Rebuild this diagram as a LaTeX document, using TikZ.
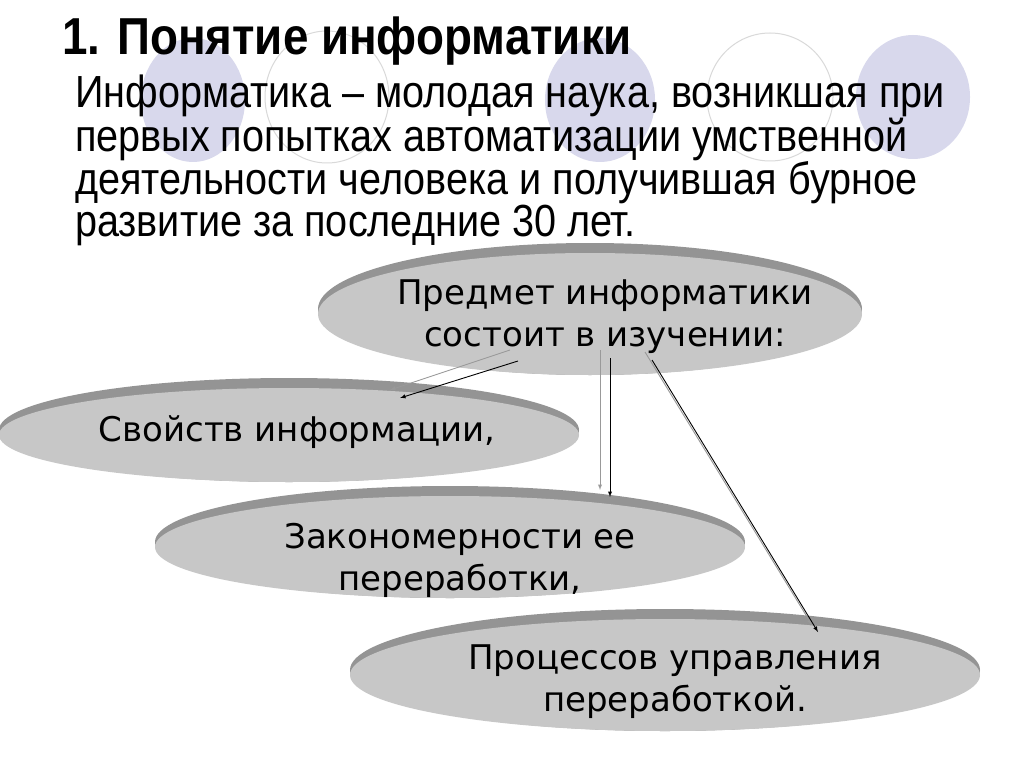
\documentclass[tikz,border=0pt]{standalone}
\usepackage{fontspec}
\setmainfont{Liberation Sans}
\newfontfamily\narrowf[FakeStretch=0.88]{Liberation Sans}
\newfontfamily\verd{DejaVu Sans}
\definecolor{lav}{HTML}{D8D8EC}
\begin{document}
\begin{tikzpicture}[x=1pt,y=-1pt,
  deco/.style={fill=lav},
  ring/.style={draw=black!15,line width=1pt},
  txt/.style={font=\verd\fontsize{34}{42}\selectfont,align=center,inner sep=0},
  blk/.style={-latex,line width=0.9pt},
  gry/.style={-latex,line width=0.9pt,draw=black!40}]
\useasboundingbox (0,0) rectangle (1024,767);
\fill[white] (0,0) rectangle (1024,767);
% decorative circles
\fill[deco] (193,100) ellipse[x radius=52,y radius=62];
\draw[ring] (327,97) ellipse[x radius=62,y radius=66];
\fill[deco] (600,100) ellipse[x radius=55,y radius=62];
\draw[ring] (770,97) ellipse[x radius=63,y radius=64];
\fill[deco] (913,97) ellipse[x radius=57,y radius=62];
% title & text
\node[anchor=base west,inner sep=0,font=\narrowf\bfseries\fontsize{52}{56}\selectfont] (title) at (62,55) {1. Понятие информатики};
\node[anchor=north west,inner sep=0,align=left,font=\narrowf\fontsize{45}{40}\selectfont] (body) at (75,75)
 {Информатика – молодая наука, возникшая при\\первых попытках автоматизации умственной\\деятельности человека и получившая бурное\\развитие за последние 30 лет.};
% ellipses
\foreach \cx/\cy/\rx/\ry in {590/309/272/66, 289/430/290/52, 450/542/295/56, 665/670/315/61}{
  \fill[black!42] (\cx,\cy) ellipse[x radius=\rx,y radius=\ry];
  \fill[black!22] (\cx,\cy+5) ellipse[x radius=\rx,y radius=\ry-5];
}
\node[txt] (e0) at (605,317) {Предмет информатики\\состоит в изучении:};
\node[txt] (e1) at (297,432) {Свойств информации,};
\node[txt] (e2) at (460,560) {Закономерности ее\\переработки,};
\node[txt] (e3) at (675,682) {Процессов управления\\переработкой.};
% arrows
\coordinate (a0) at (510,350); \coordinate (a1) at (390,390);
\coordinate (b0) at (518,361); \coordinate (b1) at (400,398);
\coordinate (c0) at (600,350); \coordinate (c1) at (600,490);
\coordinate (d0) at (610,358); \coordinate (d1) at (610,497);
\coordinate (f0) at (645,352); \coordinate (f1) at (812,625);
\coordinate (g0) at (652,360); \coordinate (g1) at (818,632);
\draw[gry] (a0) -- (a1); \draw[blk] (b0) -- (b1);
\draw[gry] (c0) -- (c1); \draw[blk] (d0) -- (d1);
\draw[gry] (f0) -- (f1); \draw[blk] (g0) -- (g1);
\end{tikzpicture}
\end{document}
